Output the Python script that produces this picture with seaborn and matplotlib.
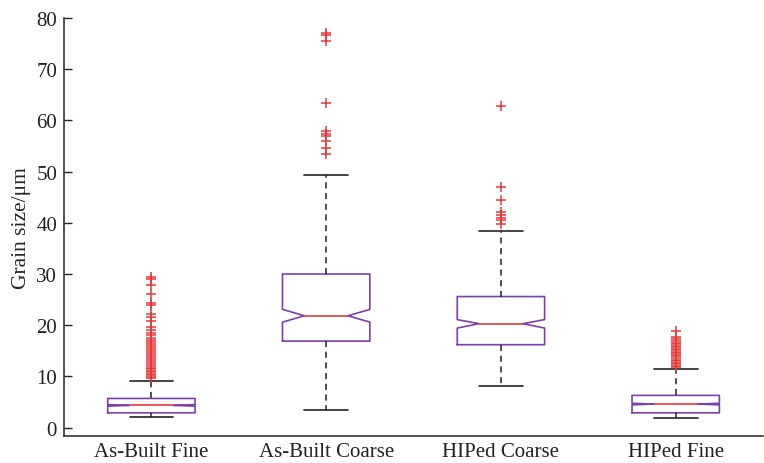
import numpy as np
import seaborn as sns
import matplotlib
matplotlib.use("Agg")
import matplotlib.pyplot as plt

# grain size box statistics (um)
groups = ["As-Built Fine", "As-Built Coarse", "HIPed Coarse", "HIPed Fine"]
whis_lo = [2.1, 3.4, 8.1, 1.8]
q1 = [2.9, 16.9, 16.2, 2.9]
medians = [4.35, 21.85, 20.3, 4.6]
q3 = [5.7, 30.0, 25.6, 6.3]
whis_hi = [9.2, 49.4, 38.5, 11.45]
ci_lo = [4.2, 20.6, 19.45, 4.45]
ci_hi = [4.5, 23.1, 21.1, 4.75]
outliers = [
    [9.6, 9.9, 10.2, 10.5, 10.8, 11.1, 11.4, 11.7, 12.0, 12.4, 12.8, 13.2,
     13.6, 14.0, 14.4, 14.8, 15.2, 15.6, 16.0, 16.4, 16.8, 17.2, 17.6, 18.0,
     18.5, 19.0, 19.6, 20.9, 21.6, 22.2, 23.9, 24.4, 26.1, 27.9, 29.0, 29.4],
    [53.5, 54.6, 55.9, 56.9, 57.4, 57.95, 63.4, 75.6, 76.6, 77.0],
    [39.7, 40.6, 41.0, 41.6, 42.1, 44.4, 47.0, 62.8],
    [11.8, 12.1, 12.4, 12.7, 13.0, 13.3, 13.6, 13.9, 14.2, 14.5, 14.8, 15.1,
     15.4, 15.7, 16.0, 16.3, 16.6, 16.9, 17.3, 17.7, 18.9],
]

stats = []
for i, g in enumerate(groups):
    stats.append(dict(label=g, whislo=whis_lo[i], q1=q1[i], med=medians[i],
                      q3=q3[i], whishi=whis_hi[i], cilo=ci_lo[i],
                      cihi=ci_hi[i], fliers=outliers[i]))

sns.set_style("white")
plt.rcParams["font.family"] = ["Liberation Serif", "DejaVu Serif"]

purple = "#7b3fb0"
red = "#e8383a"

fig = plt.figure(figsize=(7.64, 4.64), dpi=100)
ax = fig.add_axes([0.0838, 0.058, 0.915, 0.901])

ax.bxp(stats, positions=[1, 2, 3, 4], widths=0.5, shownotches=True,
       boxprops=dict(color=purple, linewidth=1.2),
       medianprops=dict(color=red, linewidth=1.2),
       whiskerprops=dict(color="#222222", linewidth=1.1, linestyle=(0, (4, 3))),
       capprops=dict(color="#222222", linewidth=1.2),
       flierprops=dict(marker="+", markeredgecolor=red, markersize=7,
                       markeredgewidth=1.1, linestyle="none"))

ax.set_xlim(0.5, 4.5)
ax.set_ylim(-1.65, 80)
ax.set_yticks(np.arange(0, 81, 10))
ax.set_ylabel("Grain size/μm", fontsize=15.5, labelpad=4)
ax.tick_params(axis="y", direction="in", length=6, width=1, pad=5,
               labelsize=15, colors="#222222", left=True)
ax.tick_params(axis="x", length=0, pad=4, labelsize=15, colors="#222222")

for side in ["top", "right"]:
    ax.spines[side].set_visible(False)
for side in ["left", "bottom"]:
    ax.spines[side].set_color("#333333")
    ax.spines[side].set_linewidth(1.2)

fig.savefig("out.png", dpi=100)
